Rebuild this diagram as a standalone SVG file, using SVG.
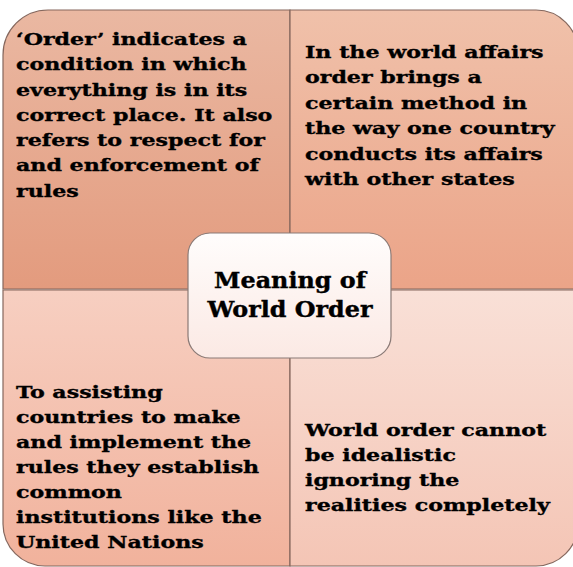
<svg xmlns="http://www.w3.org/2000/svg" width="573" height="567" viewBox="0 0 573 567">
<defs>
<linearGradient id="gTL" x1="0" y1="0" x2="0" y2="1"><stop offset="0" stop-color="#eab8a2"/><stop offset="1" stop-color="#e39b7e"/></linearGradient>
<linearGradient id="gTR" x1="0" y1="0" x2="0" y2="1"><stop offset="0" stop-color="#f0c1aa"/><stop offset="1" stop-color="#eba488"/></linearGradient>
<linearGradient id="gBL" x1="0" y1="0" x2="0" y2="1"><stop offset="0" stop-color="#f7cfc1"/><stop offset="1" stop-color="#f1b29c"/></linearGradient>
<linearGradient id="gBR" x1="0" y1="0" x2="0" y2="1"><stop offset="0" stop-color="#f9e0d7"/><stop offset="1" stop-color="#f4c5b5"/></linearGradient>
<linearGradient id="gC" x1="0" y1="0" x2="0" y2="1"><stop offset="0" stop-color="#fffdfc"/><stop offset="1" stop-color="#fbe9e4"/></linearGradient>
</defs>
<style>
.q{stroke:#85675d;stroke-width:1.2}
.t{font-family:"DejaVu Serif","Liberation Serif",serif;font-weight:bold;font-size:17.5px;fill:#000;stroke:#000;stroke-width:0.35}
.c{font-family:"DejaVu Serif","Liberation Serif",serif;font-weight:bold;font-size:22.5px;fill:#000;stroke:#000;stroke-width:0.4;text-anchor:middle}
</style>
<rect width="573" height="567" fill="#ffffff"/>
<g id="node-tl">
<path class="q" fill="url(#gTL)" d="M3,55 A45,45 0 0 1 48,10 L290,10 L290,289 L3,289 Z"/>
<g transform="translate(16,0) scale(1.265,1)">
<text class="t"><tspan x="0" y="45">‘Order’ indicates a</tspan><tspan x="0" y="70">condition in which</tspan><tspan x="0" y="96">everything is in its</tspan><tspan x="0" y="121">correct place. It also</tspan><tspan x="0" y="146">refers to respect for</tspan><tspan x="0" y="171">and enforcement of</tspan><tspan x="0" y="197">rules</tspan></text>
</g>
</g>
<g id="node-tr">
<path class="q" fill="url(#gTR)" d="M290,10 L536,10 A42,42 0 0 1 578,52 L578,289 L290,289 Z"/>
<g transform="translate(305,0) scale(1.265,1)">
<text class="t"><tspan x="0" y="58">In the world affairs</tspan><tspan x="0" y="83">order brings a</tspan><tspan x="0" y="109">certain method in</tspan><tspan x="0" y="134">the way one country</tspan><tspan x="0" y="160">conducts its affairs</tspan><tspan x="0" y="185">with other states</tspan></text>
</g>
</g>
<g id="node-bl">
<path class="q" fill="url(#gBL)" d="M3,290 L290,290 L290,566 L45,566 A42,42 0 0 1 3,524 Z"/>
<g transform="translate(16,0) scale(1.265,1)">
<text class="t"><tspan x="0" y="398">To assisting</tspan><tspan x="0" y="423">countries to make</tspan><tspan x="0" y="448">and implement the</tspan><tspan x="0" y="473">rules they establish</tspan><tspan x="0" y="498">common</tspan><tspan x="0" y="523">institutions like the</tspan><tspan x="0" y="548">United Nations</tspan></text>
</g>
</g>
<g id="node-br">
<path class="q" fill="url(#gBR)" d="M290,290 L578,290 L578,524 A42,42 0 0 1 536,566 L290,566 Z"/>
<g transform="translate(305,0) scale(1.265,1)">
<text class="t"><tspan x="0" y="436">World order cannot</tspan><tspan x="0" y="461">be idealistic</tspan><tspan x="0" y="486">ignoring the</tspan><tspan x="0" y="511">realities completely</tspan></text>
</g>
</g>
<g id="connectors"></g>
<g id="node-center">
<rect x="188" y="233" width="203" height="125" rx="22" ry="22" fill="url(#gC)" stroke="#8a7a76" stroke-width="1.2"/>
<g transform="translate(290,0) scale(1.06,1)">
<text class="c"><tspan x="0" y="288">Meaning of</tspan><tspan x="0" y="317">World Order</tspan></text>
</g>
</g>
</svg>
